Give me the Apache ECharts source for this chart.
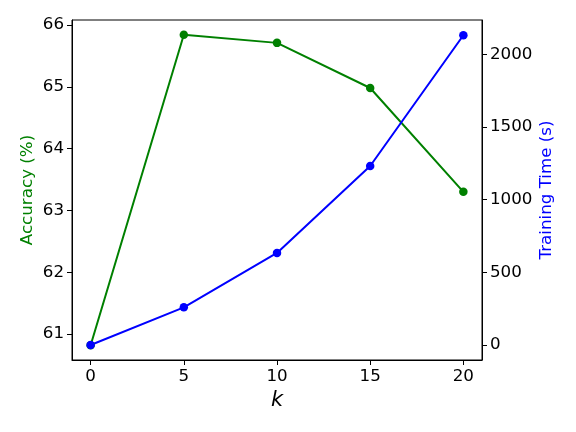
<!DOCTYPE html>
<html>
<head>
<meta charset="utf-8">
<script src="https://cdn.jsdelivr.net/npm/echarts@6/dist/echarts.min.js"></script>
<style>
  html, body { margin: 0; padding: 0; background: #fff; }
  #chart { width: 576px; height: 432px; }
</style>
</head>
<body>
<div id="chart"></div>
<script>
// values
const kValues = [0, 5, 10, 15, 20]
const accuracy = [60.82, 65.84, 65.71, 64.98, 63.30]
const trainTime = [0, 259, 633, 1231, 2130]
const xTicks = [0, 5, 10, 15, 20]
const accTicks = [61, 62, 63, 64, 65, 66]
const timeTicks = [0, 500, 1000, 1500, 2000]

const font = 'DejaVu Sans'
const chart = echarts.init(document.getElementById('chart'), null, { renderer: 'canvas' })

const pair = (xs, ys) => xs.map((x, i) => [x, ys[i]])

const tickStyle = (vals) => ({
  show: true,
  inside: false,
  length: 5,
  customValues: vals,
  lineStyle: { color: '#000', width: 1 }
})

const labelStyle = (vals) => ({
  customValues: vals,
  fontFamily: font,
  fontSize: 16.7,
  color: '#000',
  margin: 8,
  formatter: (v) => String(v)
})

chart.setOption({
  animation: false,
  backgroundColor: '#fff',
  grid: {
    left: 72, right: 94, top: 20, bottom: 72,
    show: true, borderColor: '#000', borderWidth: 1, backgroundColor: 'transparent'
  },
  xAxis: {
    type: 'value',
    min: -1, max: 21,
    name: 'k',
    nameLocation: 'middle',
    nameGap: 28,
    nameTextStyle: { fontFamily: font, fontSize: 21, fontStyle: 'italic', color: '#000' },
    axisLine: { show: true, onZero: false, lineStyle: { color: '#000', width: 1 } },
    axisTick: tickStyle(xTicks),
    axisLabel: labelStyle(xTicks),
    splitLine: { show: false }
  },
  yAxis: [
    {
      type: 'value',
      position: 'left',
      min: 60.58, max: 66.08,
      name: 'Accuracy (%)',
      nameLocation: 'middle',
      nameGap: 36,
      nameMoveOverlap: false,
      nameRotate: 90,
      nameTextStyle: { fontFamily: font, fontSize: 16.7, color: '#008000' },
      axisLine: { show: true, onZero: false, lineStyle: { color: '#000', width: 1 } },
      axisTick: tickStyle(accTicks),
      axisLabel: labelStyle(accTicks),
      splitLine: { show: false }
    },
    {
      type: 'value',
      position: 'right',
      min: -103, max: 2235,
      name: 'Training Time (s)',
      nameLocation: 'middle',
      nameGap: 56,
      nameMoveOverlap: false,
      nameRotate: 90,
      nameTextStyle: { fontFamily: font, fontSize: 16.7, color: '#0000ff' },
      axisLine: { show: true, onZero: false, lineStyle: { color: '#000', width: 1 } },
      axisTick: tickStyle(timeTicks),
      axisLabel: labelStyle(timeTicks),
      splitLine: { show: false }
    }
  ],
  series: [
    {
      name: 'Accuracy',
      type: 'line',
      yAxisIndex: 0,
      data: pair(kValues, accuracy),
      symbol: 'circle',
      symbolSize: 8.5,
      lineStyle: { color: '#008000', width: 2 },
      itemStyle: { color: '#008000' }
    },
    {
      name: 'Training Time',
      type: 'line',
      yAxisIndex: 1,
      data: pair(kValues, trainTime),
      symbol: 'circle',
      symbolSize: 8.5,
      lineStyle: { color: '#0000ff', width: 2 },
      itemStyle: { color: '#0000ff' }
    }
  ]
})
</script>
</body>
</html>
